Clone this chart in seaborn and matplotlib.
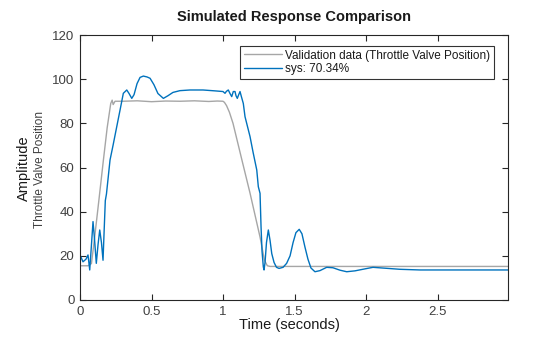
import numpy as np
import pandas as pd
import matplotlib
matplotlib.use("Agg")
import matplotlib.pyplot as plt
import seaborn as sns

# ---- data ----
val_t = [0.000, 0.056, 0.080, 0.100, 0.130, 0.163, 0.190, 0.215, 0.225, 0.232, 0.245,
         0.300, 0.400, 0.500, 0.600, 0.700, 0.800, 0.900, 0.960, 1.000, 1.010, 1.025,
         1.045, 1.070, 1.130, 1.189, 1.259, 1.290, 1.310, 1.330, 1.500, 2.000, 2.500, 2.993]
val_y = [15.5, 15.5, 16.5, 27.0, 44.0, 63.0, 78.0, 89.0, 90.5, 88.5, 90.0,
         90.0, 90.2, 89.8, 90.1, 90.0, 90.2, 89.9, 90.1, 90.0, 89.5, 88.0,
         85.0, 80.0, 64.0, 48.4, 28.5, 18.0, 15.5, 15.2, 15.2, 15.2, 15.2, 15.2]

sys_t = [0.000, 0.021, 0.042, 0.056, 0.068, 0.077, 0.091, 0.101, 0.114, 0.126, 0.138,
         0.150, 0.161, 0.168, 0.177, 0.185, 0.210, 0.231, 0.257, 0.280, 0.303, 0.327,
         0.343, 0.362, 0.378, 0.399, 0.420, 0.443, 0.469, 0.490, 0.517, 0.545, 0.583,
         0.615, 0.650, 0.699, 0.769, 0.860, 0.944, 1.000, 1.014, 1.024, 1.037, 1.049,
         1.061, 1.072, 1.084, 1.091, 1.100, 1.110, 1.119, 1.129, 1.142, 1.154, 1.189,
         1.210, 1.236, 1.247, 1.259, 1.266, 1.273, 1.282, 1.287, 1.294, 1.304, 1.317,
         1.329, 1.341, 1.357, 1.374, 1.392, 1.420, 1.445, 1.469, 1.490, 1.510, 1.533,
         1.552, 1.573, 1.594, 1.615, 1.643, 1.678, 1.725, 1.769, 1.818, 1.865, 1.923,
         1.993, 2.049, 2.133, 2.238, 2.378, 2.587, 2.797, 2.993]
sys_y = [20.4, 17.3, 18.5, 20.4, 13.6, 22.0, 35.5, 28.0, 16.6, 25.0, 31.7,
         26.0, 18.0, 30.0, 45.0, 48.0, 63.4, 70.0, 78.5, 86.0, 93.6, 95.1,
         93.5, 91.3, 93.0, 98.0, 100.8, 101.4, 101.0, 100.4, 97.5, 93.5, 91.3,
         92.5, 94.0, 94.8, 95.1, 95.1, 94.7, 94.4, 93.6, 94.5, 95.1, 93.5,
         92.1, 94.4, 94.4, 92.5, 91.3, 93.0, 94.4, 92.0, 89.0, 83.0, 74.0,
         67.0, 58.9, 51.3, 48.3, 33.2, 22.0, 15.0, 13.6, 17.0, 26.0, 31.7,
         27.0, 21.0, 17.0, 14.8, 14.3, 14.8, 16.6, 20.0, 26.0, 30.5, 32.0,
         30.0, 24.0, 18.5, 14.5, 12.8, 13.3, 14.8, 14.6, 13.5, 12.8, 13.2,
         14.1, 14.8, 14.4, 13.9, 13.6, 13.6, 13.6, 13.6]

x_ticks = [0, 0.5, 1, 1.5, 2, 2.5]
x_tick_labels = ["0", "0.5", "1", "1.5", "2", "2.5"]
y_ticks = [0, 20, 40, 60, 80, 100, 120]

labels = ["Validation data (Throttle Valve Position)", "sys: 70.34%"]
colors = ["#a6a6a6", "#0072BD"]

df = pd.concat([
    pd.DataFrame({"t": val_t, "y": val_y, "series": labels[0]}),
    pd.DataFrame({"t": sys_t, "y": sys_y, "series": labels[1]}),
], ignore_index=True)

sns.set_theme(style="white")
plt.rcParams["font.family"] = ["Liberation Sans", "DejaVu Sans"]

fig = plt.figure(figsize=(5.6, 3.37), dpi=100)
ax = fig.add_axes([80/560, 37/337, 428/560, 265/337])

sns.lineplot(data=df, x="t", y="y", hue="series", palette=colors,
             hue_order=labels, sort=False, estimator=None, linewidth=1.0, ax=ax)

ax.set_xlim(0, 2.993)
ax.set_ylim(0, 120)
ax.set_xticks(x_ticks)
ax.set_xticklabels(x_tick_labels)
ax.set_yticks(y_ticks)
axc = "#262626"
for s in ax.spines.values():
    s.set_color(axc)
    s.set_linewidth(0.8)
ax.tick_params(direction="in", length=4, width=0.8, colors=axc, labelcolor="#404040",
               labelsize=9.5, top=True, right=True, bottom=True, left=True, pad=4)
ax.set_xlabel("")
ax.set_ylabel("")

fig.text(294/560, 1 - 17/337, "Simulated Response Comparison", ha="center", va="center",
         fontsize=10.5, fontweight="bold", color="#1a1a1a")
fig.text(289/560, 1 - 325/337, "Time (seconds)", ha="center", va="center",
         fontsize=10.5, color="#1a1a1a")
fig.text(24/560, 1 - 168/337, "Amplitude", ha="center", va="center", rotation=90,
         fontsize=10.5, color="#1a1a1a")
fig.text(40/560, 1 - 170/337, "Throttle Valve Position", ha="center", va="center",
         rotation=90, fontsize=8.5, color="#404040")

leg = ax.legend(loc="upper right", bbox_to_anchor=(1 - 14/428, 1 - 11/265),
                frameon=True, fancybox=False, fontsize=8.5, borderpad=0.3,
                handlelength=3.2, handletextpad=0.3, labelspacing=0.15,
                borderaxespad=0)
leg.get_frame().set_edgecolor("#000000")
leg.get_frame().set_linewidth(0.8)
for t in leg.get_texts():
    t.set_color("#1a1a1a")

fig.savefig("out.png", dpi=100)
